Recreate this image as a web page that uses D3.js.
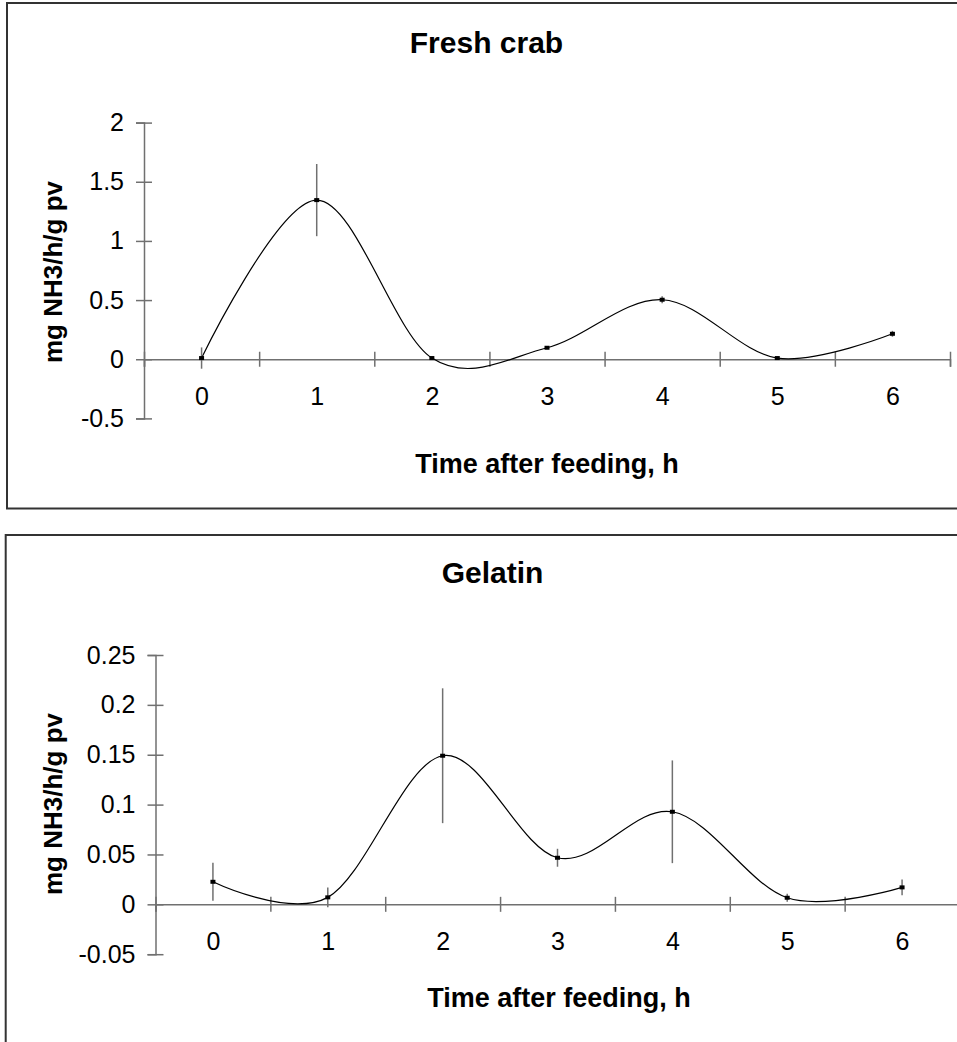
<!DOCTYPE html>
<html>
<head>
<meta charset="utf-8">
<script src="https://cdn.jsdelivr.net/npm/d3@7"></script>
<style>
  body { margin: 0; background: #fff; }
  svg { display: block; font-family: "Liberation Sans", Arial, sans-serif; }
</style>
</head>
<body>
<div id="chart"></div>
<script>
// hours after feeding (categories)
const hours = [0, 1, 2, 3, 4, 5, 6];

// fresh crab: mean and error
const crabMean = [0.01, 1.345, 0.01, 0.097, 0.503, 0.01, 0.215];
const crabErr = [0.09, 0.305, 0.01, 0.01, 0.03, 0.01, 0.025];
const crabTicks = [-0.5, 0, 0.5, 1, 1.5, 2];

// gelatin: mean and error
const gelMean = [0.0226, 0.007, 0.149, 0.0467, 0.0928, 0.0066, 0.017];
const gelErr = [0.019, 0.01, 0.0676, 0.009, 0.0515, 0.004, 0.008];
const gelTicks = [-0.05, 0, 0.05, 0.1, 0.15, 0.2, 0.25];

const W = 957, H = 1042;
const svg = d3.select('#chart').append('svg')
    .attr('width', W)
    .attr('height', H);

// plain hyphen for negatives, like the original
const numFmt = d => String(+d.toFixed(2));

const panels = [
    {
        title: 'Fresh crab', mean: crabMean, err: crabErr, ticks: crabTicks,
        frame: [7, 3, 980, 505.5],
        xr: [144, 950], yd: [-0.5, 2], yr: [418.4, 122.6],
        titleX: 486.5, titleY: 53, xtX: 547, xtY: 472.7, ytY: 272
    },
    {
        title: 'Gelatin', mean: gelMean, err: gelErr, ticks: gelTicks,
        frame: [5.7, 535, 980, 520],
        xr: [155.5, 959.5], yd: [-0.05, 0.25], yr: [954.2, 655],
        titleX: 492.5, titleY: 583.3, xtX: 559, xtY: 1006.5, ytY: 804
    }
];

panels.forEach(p => {
    const g = svg.append('g');

    g.append('rect')
        .attr('x', p.frame[0]).attr('y', p.frame[1])
        .attr('width', p.frame[2]).attr('height', p.frame[3])
        .attr('fill', 'none')
        .attr('stroke', '#333')
        .attr('stroke-width', 2);

    const x = d3.scaleLinear().domain([-0.5, 6.5]).range(p.xr);
    const y = d3.scaleLinear().domain(p.yd).range(p.yr);

    // y axis with ticks crossing the line
    const yAxis = g.append('g')
        .attr('transform', `translate(${x(-0.5)},0)`)
        .call(d3.axisLeft(y).tickValues(p.ticks).tickSize(8).tickPadding(12).tickFormat(numFmt));
    yAxis.select('.domain').attr('stroke', '#707070').attr('stroke-width', 1.5);
    yAxis.selectAll('.tick line').attr('x1', 8).attr('x2', -8)
        .attr('stroke', '#707070').attr('stroke-width', 1.5);
    yAxis.selectAll('.tick text')
        .attr('x', -20)
        .attr('font-size', 25)
        .attr('font-family', '"Liberation Sans", Arial, sans-serif')
        .attr('fill', '#000');

    // x axis at zero, ticks between categories
    const halfTicks = d3.range(-0.5, 7, 1);
    const xAxis = g.append('g')
        .attr('transform', `translate(0,${y(0)})`)
        .call(d3.axisBottom(x).tickValues(halfTicks).tickSize(7.5).tickFormat(''));
    xAxis.select('.domain').attr('stroke', '#707070').attr('stroke-width', 1.5);
    xAxis.selectAll('.tick line').attr('y1', -7.5).attr('y2', 7.5)
        .attr('stroke', '#707070').attr('stroke-width', 1.5);

    // category labels
    const xLab = g.append('g')
        .attr('transform', `translate(0,${y(0)})`)
        .call(d3.axisBottom(x).tickValues(hours).tickSize(0).tickFormat(d3.format('d')));
    xLab.select('.domain').remove();
    xLab.selectAll('.tick text')
        .attr('y', 28)
        .attr('font-size', 25)
        .attr('font-family', '"Liberation Sans", Arial, sans-serif')
        .attr('fill', '#000');

    // smoothed line
    const line = d3.line()
        .x((d, i) => x(hours[i]))
        .y(d => y(d))
        .curve(d3.curveCardinal.tension(0));
    g.append('path')
        .datum(p.mean)
        .attr('d', line)
        .attr('fill', 'none')
        .attr('stroke', '#000')
        .attr('stroke-width', 1.2);

    // error bars
    g.selectAll('.err')
        .data(p.mean)
        .enter()
        .append('line')
        .attr('class', 'err')
        .attr('x1', (d, i) => x(hours[i]))
        .attr('x2', (d, i) => x(hours[i]))
        .attr('y1', (d, i) => y(d - p.err[i]))
        .attr('y2', (d, i) => y(d + p.err[i]))
        .attr('stroke', '#707070')
        .attr('stroke-width', 1.5);

    // markers
    g.selectAll('.pt')
        .data(p.mean)
        .enter()
        .append('rect')
        .attr('class', 'pt')
        .attr('x', (d, i) => x(hours[i]) - 2.5)
        .attr('y', d => y(d) - 2)
        .attr('width', 5)
        .attr('height', 4)
        .attr('fill', '#000');

    // titles
    g.append('text')
        .attr('x', p.titleX).attr('y', p.titleY)
        .attr('text-anchor', 'middle')
        .attr('font-size', 30).attr('font-weight', 'bold')
        .text(p.title);

    g.append('text')
        .attr('x', p.xtX).attr('y', p.xtY)
        .attr('text-anchor', 'middle')
        .attr('font-size', 27).attr('font-weight', 'bold')
        .text('Time after feeding, h');

    g.append('text')
        .attr('transform', `translate(62,${p.ytY}) rotate(-90)`)
        .attr('text-anchor', 'middle')
        .attr('font-size', 26).attr('font-weight', 'bold')
        .text('mg NH3/h/g pv');
});
</script>
</body>
</html>
